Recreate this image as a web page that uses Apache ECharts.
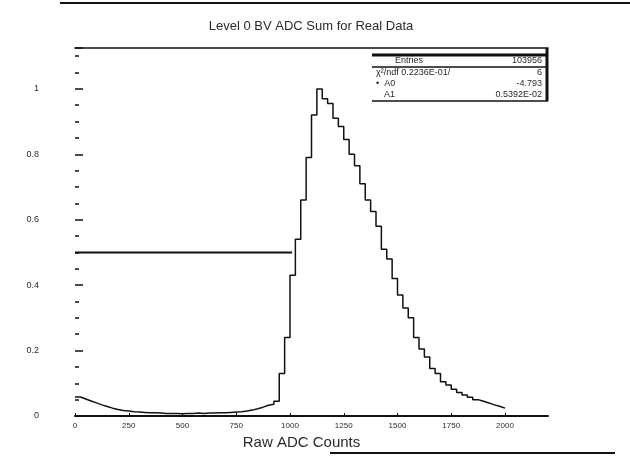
<!DOCTYPE html>
<html>
<head>
<meta charset="utf-8">
<script src="https://cdn.jsdelivr.net/npm/echarts@6/dist/echarts.min.js"></script>
<style>html,body{margin:0;padding:0;background:#fff}#c{width:630px;height:461px}</style>
</head>
<body>
<div id="c"></div>
<script>
// Bin left edges (ADC counts), bin width 25
const binEdges = [0,25,50,75,100,125,150,175,200,225,250,275,300,325,350,375,400,425,450,475,500,525,550,575,600,625,650,675,700,725,750,775,800,825,850,875,900,925,950,975,1000,1025,1050,1075,1100,1125,1150,1175,1200,1225,1250,1275,1300,1325,1350,1375,1400,1425,1450,1475,1500,1525,1550,1575,1600,1625,1650,1675,1700,1725,1750,1775,1800,1825,1850,1875,1900,1925,1950,1975];
const histEnd = 2000;
// Normalised bin contents
const binValues = [0.058,0.052,0.046,0.040,0.034,0.029,0.024,0.020,0.017,0.015,0.013,0.012,0.011,0.010,0.010,0.009,0.008,0.008,0.008,0.007,0.008,0.008,0.009,0.008,0.009,0.009,0.010,0.010,0.011,0.012,0.013,0.015,0.018,0.022,0.027,0.033,0.036,0.045,0.130,0.240,0.430,0.540,0.660,0.790,0.920,1.000,0.970,0.955,0.910,0.885,0.845,0.800,0.765,0.710,0.660,0.625,0.580,0.510,0.480,0.420,0.370,0.330,0.300,0.240,0.205,0.180,0.145,0.130,0.105,0.095,0.082,0.072,0.064,0.057,0.050,0.045,0.040,0.034,0.030,0.024];
// Horizontal reference line
const levelLineX = [0, 1010];
const levelLineY = 0.5;
// Axis settings
const xTickStep = 250;
const yTickStep = 0.2;
const xRange = [0, 2200];
const yRange = [0, 1.125];
// Texts
const titleText = 'Level 0 BV ADC Sum for Real Data';
const xTitle = 'Raw ADC Counts';
const statsRows = [
  ['Entries', '103956'],
  ['\u03C7\u00B2/ndf', '0.2236E-01/', '6'],
  ['A0', '-4.793'],
  ['A1', '0.5392E-02']
];

const histData = binEdges.map((e, i) => [e, binValues[i]]);
histData.push([histEnd, binValues[binValues.length - 1]]);

const chart = echarts.init(document.getElementById('c'), null, {renderer: 'canvas'});
const ink = '#111';
const txt = '#2a2a2a';
const font = 'Liberation Sans, Arial, sans-serif';

const boxL = 372, boxR = 548;
const rowY = [61, 73, 84, 95];
const sf = '9px ' + font;

const graphics = [
  {type:'line', shape:{x1:60,y1:3,x2:630,y2:3}, style:{stroke:ink, lineWidth:2}},
  {type:'line', shape:{x1:330,y1:453,x2:615,y2:453}, style:{stroke:ink, lineWidth:2}},
  {type:'line', shape:{x1:boxL,y1:55,x2:boxR,y2:55}, style:{stroke:ink, lineWidth:3}},
  {type:'line', shape:{x1:boxR-1,y1:48,x2:boxR-1,y2:101}, style:{stroke:ink, lineWidth:3}},
  {type:'line', shape:{x1:boxL,y1:67,x2:boxR-2,y2:67}, style:{stroke:ink, lineWidth:1.5}},
  {type:'line', shape:{x1:boxL,y1:101,x2:boxR,y2:101}, style:{stroke:ink, lineWidth:1.5}},
  {type:'text', left:395, top:rowY[0]-5, style:{text:statsRows[0][0], font:sf, fill:txt}},
  {type:'text', right:630-542, top:rowY[0]-5, style:{text:statsRows[0][1], font:sf, fill:txt}},
  {type:'text', left:376, top:rowY[1]-5, style:{text:statsRows[1][0]+' '+statsRows[1][1], font:sf, fill:txt}},
  {type:'text', right:630-542, top:rowY[1]-5, style:{text:statsRows[1][2], font:sf, fill:txt}},
  {type:'text', left:376, top:rowY[2]-5, style:{text:'\u2022  '+statsRows[2][0], font:sf, fill:txt}},
  {type:'text', right:630-542, top:rowY[2]-5, style:{text:statsRows[2][1], font:sf, fill:txt}},
  {type:'text', left:384, top:rowY[3]-5, style:{text:statsRows[3][0], font:sf, fill:txt}},
  {type:'text', right:630-542, top:rowY[3]-5, style:{text:statsRows[3][1], font:sf, fill:txt}}
];

chart.setOption({
  animation: false,
  backgroundColor: '#fff',
  title: {
    text: titleText, left: 306, top: 15, textAlign: 'center',
    textStyle: {fontFamily: font, fontSize: 13, fontWeight: 'normal', color: txt}
  },
  grid: {left: 75, right: 82, top: 48, bottom: 45},
  xAxis: [{
    type: 'value', min: xRange[0], max: xRange[1], interval: xTickStep,
    axisLine: {show: true, lineStyle: {color: ink, width: 2}},
    axisTick: {show: true, inside: true, length: 3, lineStyle: {color: ink}},
    axisLabel: {fontSize: 8, color: txt, margin: 6, fontFamily: font, showMaxLabel: false,
      formatter: v => String(v)},
    splitLine: {show: false},
    name: xTitle, nameLocation: 'middle', nameGap: 17,
    nameTextStyle: {fontSize: 15, color: txt, fontFamily: font, padding: [0, 20, 0, 0]}
  }, {
    type: 'value', position: 'top', min: xRange[0], max: xRange[1],
    axisLine: {show: true, lineStyle: {color: ink, width: 1.5}},
    axisTick: {show: false}, axisLabel: {show: false}, splitLine: {show: false}
  }],
  yAxis: {
    type: 'value', min: yRange[0], max: yRange[1], interval: yTickStep,
    axisLine: {show: false},
    axisTick: {show: true, inside: true, length: 8, lineStyle: {color: ink, width: 1.5}},
    minorTick: {show: true, splitNumber: 4, length: 4, lineStyle: {color: ink, width: 1.5}},
    axisLabel: {fontSize: 9, color: txt, margin: 36, fontFamily: font, showMaxLabel: false},
    splitLine: {show: false}
  },
  series: [{
    type: 'line', xAxisIndex: 0, step: 'end', data: histData,
    showSymbol: false, lineStyle: {color: ink, width: 1.5}
  }, {
    type: 'line', xAxisIndex: 0,
    data: [[levelLineX[0], levelLineY], [levelLineX[1], levelLineY]],
    showSymbol: false, lineStyle: {color: ink, width: 2}
  }],
  graphic: graphics
});
</script>
</body>
</html>
